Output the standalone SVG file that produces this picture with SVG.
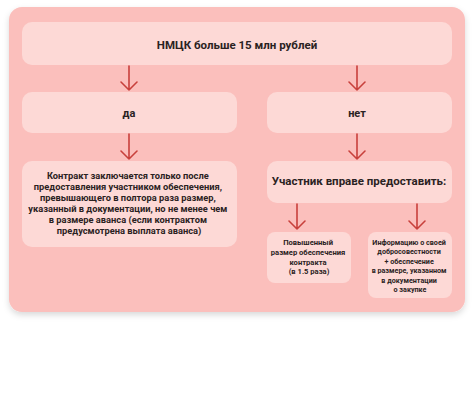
<svg xmlns="http://www.w3.org/2000/svg" width="474" height="407" viewBox="0 0 474 407">
<defs>
<filter id="sh" x="-10%" y="-10%" width="120%" height="125%">
<feDropShadow dx="0" dy="3" stdDeviation="3" flood-color="#000" flood-opacity="0.15"/>
</filter>
<marker id="ah" viewBox="0 0 16 10" refX="8" refY="9" markerWidth="16" markerHeight="10" markerUnits="userSpaceOnUse" orient="auto-start-reverse">
</marker>
</defs>
<style>
.box{fill:#fdd9d6;}
.t{font-family:Roboto,"Liberation Sans",sans-serif;font-weight:700;fill:#2a2222;text-anchor:middle;}
.arr{stroke:#c8403c;stroke-width:1.6;fill:none;stroke-linecap:round;stroke-linejoin:round;}
</style>
<rect width="474" height="407" fill="#ffffff"/>
<rect id="panel" x="9" y="7" width="456" height="305" rx="13" fill="#fbbfbc" filter="url(#sh)"/>
<g id="connectors">
<path class="arr" d="M129 66V90M121 82L129 90L137 82"/>
<path class="arr" d="M357 66V90M349 82L357 90L365 82"/>
<path class="arr" d="M129 134V159M121 151L129 159L137 151"/>
<path class="arr" d="M357 134V159M349 151L357 159L365 151"/>
<path class="arr" d="M297 204V229M289 221L297 229L305 221"/>
<path class="arr" d="M417 204V229M409 221L417 229L425 221"/>
</g>
<g id="n-top">
<rect class="box" x="22" y="22" width="430" height="43" rx="10"/>
<text class="t" x="237" y="49" font-size="11.5">НМЦК больше 15 млн рублей</text>
</g>
<g id="n-yes">
<rect class="box" x="22" y="92" width="215" height="41" rx="10"/>
<text class="t" x="129" y="117" font-size="11">да</text>
</g>
<g id="n-no">
<rect class="box" x="267" y="92" width="185" height="41" rx="10"/>
<text class="t" x="357" y="117" font-size="11">нет</text>
</g>
<g id="n-contract">
<rect class="box" x="22" y="161" width="215" height="86" rx="10"/>
<text class="t" font-size="9.3">
<tspan x="129" y="179">Контракт заключается только после</tspan>
<tspan x="129" y="189.9">предоставления участником обеспечения,</tspan>
<tspan x="129" y="200.8">превышающего в полтора раза размер,</tspan>
<tspan x="129" y="211.7">указанный в документации, но не менее чем</tspan>
<tspan x="129" y="222.6">в размере аванса (если контрактом</tspan>
<tspan x="129" y="233.5">предусмотрена выплата аванса)</tspan>
</text>
</g>
<g id="n-participant">
<rect class="box" x="267" y="161" width="185" height="42" rx="10"/>
<text class="t" x="359" y="185" font-size="11.5">Участник вправе предоставить:</text>
</g>
<g id="n-opt1">
<rect class="box" x="267" y="232" width="84" height="51" rx="8"/>
<text class="t" font-size="7.6">
<tspan x="309" y="245">Повышенный</tspan>
<tspan x="309" y="254.8">размер обеспечения</tspan>
<tspan x="309" y="264.6">контракта</tspan>
<tspan x="309" y="274.4">(в 1.5 раза)</tspan>
</text>
</g>
<g id="n-opt2">
<rect class="box" x="368" y="232" width="84" height="66" rx="8"/>
<text class="t" font-size="7.2">
<tspan x="410" y="244.8">Информацию о своей</tspan>
<tspan x="410" y="254.3">добросовестности</tspan>
<tspan x="410" y="263.8">+ обеспечение</tspan>
<tspan x="410" y="273.3">в размере, указанном</tspan>
<tspan x="410" y="282.8">в документации</tspan>
<tspan x="410" y="292.3">о закупке</tspan>
</text>
</g>
</svg>
